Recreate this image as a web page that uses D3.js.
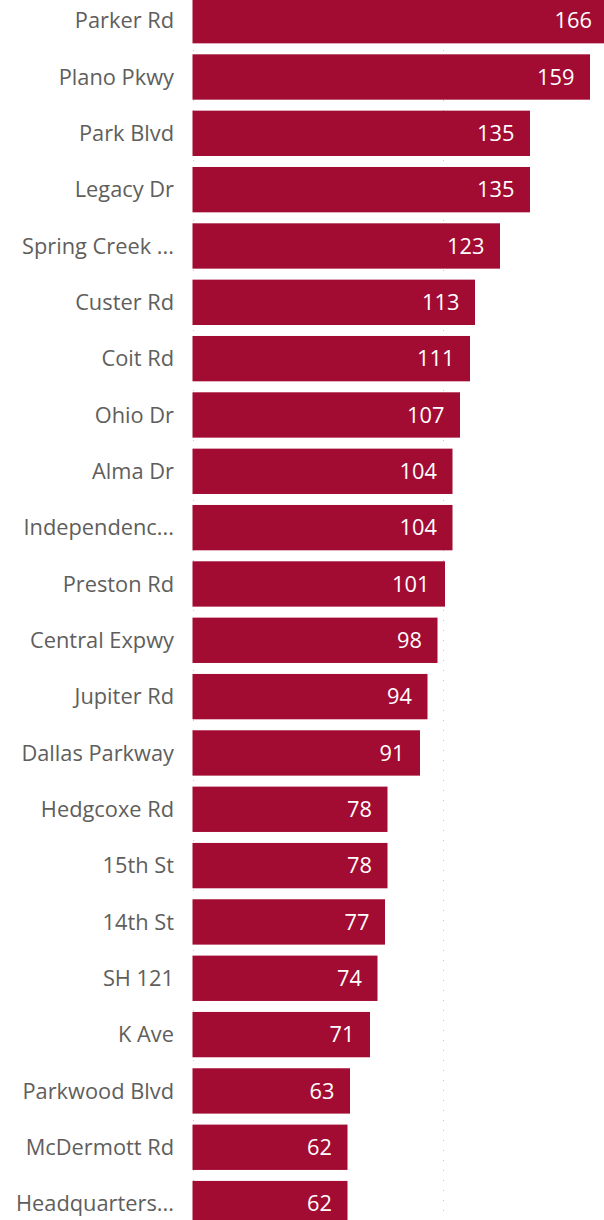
<!DOCTYPE html>
<html><head><meta charset="utf-8">
<script src="https://cdn.jsdelivr.net/npm/d3@7/dist/d3.min.js"></script>
<style>
html,body{margin:0;padding:0;background:#fff;overflow:hidden;}
svg{display:block;}
</style></head>
<body>
<script>
const categories = ["Parker Rd","Plano Pkwy","Park Blvd","Legacy Dr","Spring Creek ...","Custer Rd","Coit Rd","Ohio Dr","Alma Dr","Independenc...","Preston Rd","Central Expwy","Jupiter Rd","Dallas Parkway","Hedgcoxe Rd","15th St","14th St","SH 121","K Ave","Parkwood Blvd","McDermott Rd","Headquarters..."];
const values = [166,159,135,135,123,113,111,107,104,104,101,98,94,91,78,78,77,74,71,63,62,62];
const gridTicks = [0,100];

const W = 604, H = 1220;
const svg = d3.select("body").append("svg").attr("width", W).attr("height", H);

const step = 56.33;
const y = d3.scaleBand().domain(categories)
  .range([-7.5, -7.5 + step * categories.length])
  .paddingInner(0.195).paddingOuter(0.0975);
const x = d3.scaleLinear().domain([0, 100]).range([192.5, 442.5]);

// gridlines
svg.append("g").selectAll("line").data(gridTicks).join("line")
  .attr("x1", d => Math.round(x(d)) + 0.5).attr("x2", d => Math.round(x(d)) + 0.5)
  .attr("y1", 0).attr("y2", H)
  .attr("stroke", "#c8c8c8").attr("stroke-width", 1)
  .attr("stroke-dasharray", "1,9");

const data = categories.map((c, i) => ({c, v: values[i]}));

svg.append("g").selectAll("rect").data(data).join("rect")
  .attr("x", x(0)).attr("y", d => y(d.c))
  .attr("width", d => x(d.v) - x(0)).attr("height", y.bandwidth())
  .attr("fill", "#A20B32");

const font = "'Open Sans', 'Noto Sans', sans-serif";

svg.append("g").selectAll("text").data(data).join("text")
  .attr("x", 174).attr("y", d => y(d.c) + y.bandwidth() / 2)
  .attr("dy", "0.35em").attr("text-anchor", "end")
  .attr("font-family", font).attr("font-size", 21.8)
  .attr("fill", "#605E5C").text(d => d.c);

svg.append("g").selectAll("text").data(data).join("text")
  .attr("x", d => x(d.v) - 15.5).attr("y", d => y(d.c) + y.bandwidth() / 2)
  .attr("dy", "0.35em").attr("text-anchor", "end")
  .attr("font-family", font).attr("font-size", 21.8)
  .attr("fill", "#ffffff").text(d => d.v);
</script>
</body></html>
